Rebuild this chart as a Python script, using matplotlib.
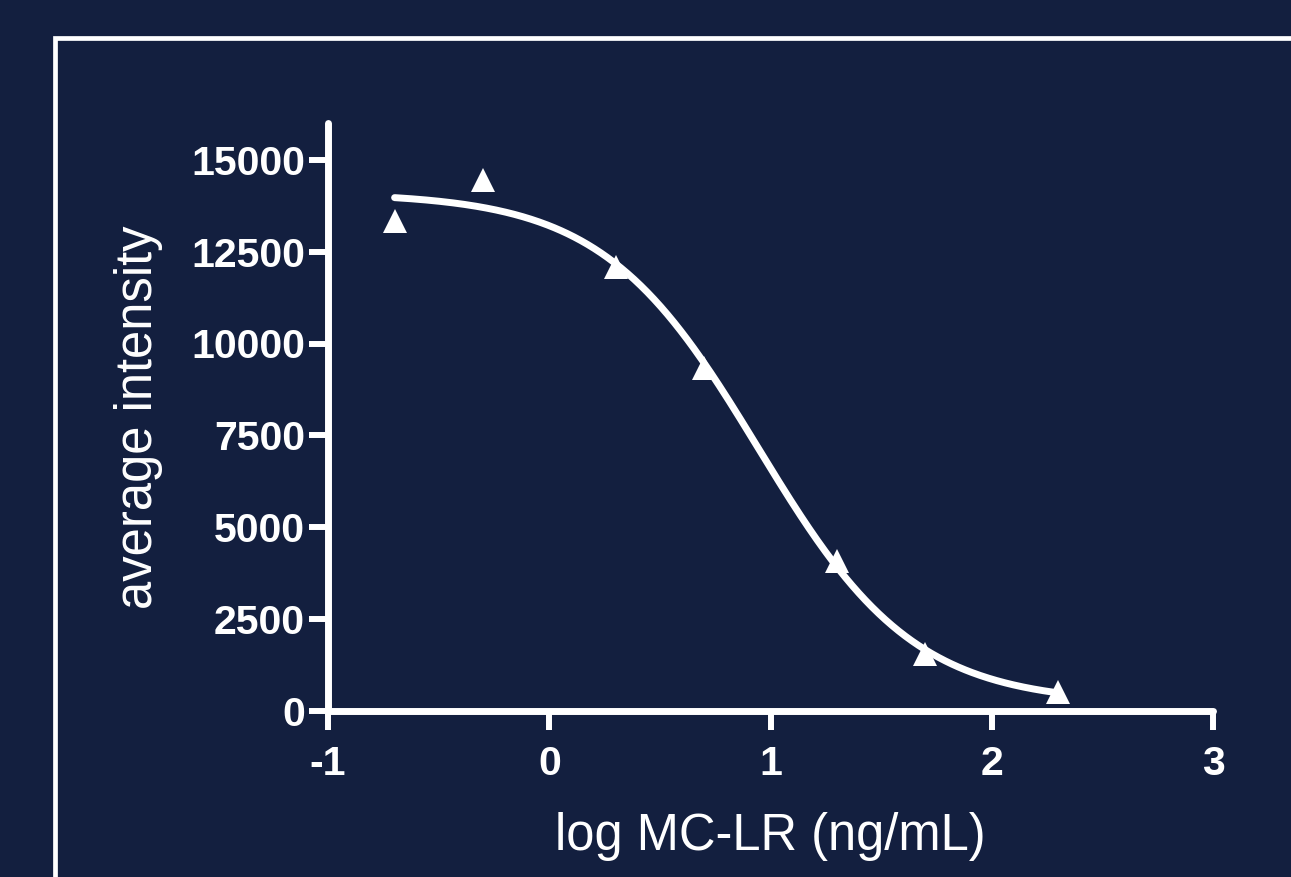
import numpy as np
import matplotlib
matplotlib.use("Agg")
import matplotlib.pyplot as plt
from matplotlib.patches import Rectangle

# datos
log_conc = [-0.699, -0.301, 0.301, 0.699, 1.301, 1.699, 2.301]
intensity = [13340, 14460, 12090, 9340, 4080, 1550, 520]

# parametros del ajuste logistico de 4 parametros
fit_top = 14100
fit_bottom = 200
fit_log_ec50 = 0.945
fit_hill = 1.23

x_ticks = [-1, 0, 1, 2, 3]
y_ticks = [0, 2500, 5000, 7500, 10000, 12500, 15000]

bg = '#131f3f'
fg = 'white'

plt.rcParams['font.family'] = ['Liberation Sans', 'DejaVu Sans']

fig = plt.figure(figsize=(12.91, 8.77), dpi=100, facecolor=bg)

# marco blanco alrededor del grafico
fig.add_artist(Rectangle((55 / 1291, -0.2), 2.0, 1.2 - 38 / 877,
                         transform=fig.transFigure, fill=False,
                         edgecolor=fg, linewidth=3.4))

ax = fig.add_axes([328 / 1291, 1 - 711 / 877, 885 / 1291, 588 / 877])
ax.set_facecolor(bg)

# curva ajustada
xc = np.linspace(min(log_conc), max(log_conc), 400)
yc = fit_bottom + (fit_top - fit_bottom) / (1 + 10 ** ((xc - fit_log_ec50) * fit_hill))
ax.plot(xc, yc, color=fg, lw=5.0, solid_capstyle='round', zorder=3)
ax.plot(log_conc, intensity, linestyle='none', marker='^', ms=17.5,
        color=fg, markeredgewidth=0, zorder=4)

ax.set_xlim(-1, 3)
ax.set_ylim(0, 16000)
ax.set_xticks(x_ticks)
ax.set_yticks(y_ticks)
ax.set_xticklabels([str(t) for t in x_ticks])
ax.set_yticklabels([str(t) for t in y_ticks])

for side in ['top', 'right']:
    ax.spines[side].set_visible(False)
for side in ['left', 'bottom']:
    ax.spines[side].set_color(fg)
    ax.spines[side].set_linewidth(5.0)
    ax.spines[side].set_capstyle('round')

ax.tick_params(axis='both', colors=fg, width=4.3, length=13.5,
               labelsize=29.5)
ax.tick_params(axis='x', pad=11)
ax.tick_params(axis='y', pad=3.2)
for lab in ax.get_xticklabels() + ax.get_yticklabels():
    lab.set_fontweight('bold')

ax.set_xlabel('log MC-LR (ng/mL)', fontsize=36.5, color=fg, labelpad=21)
ax.set_ylabel('average intensity', fontsize=36.5, color=fg, labelpad=20)

fig.savefig('out.png', dpi=100, facecolor=bg)
plt.close()
